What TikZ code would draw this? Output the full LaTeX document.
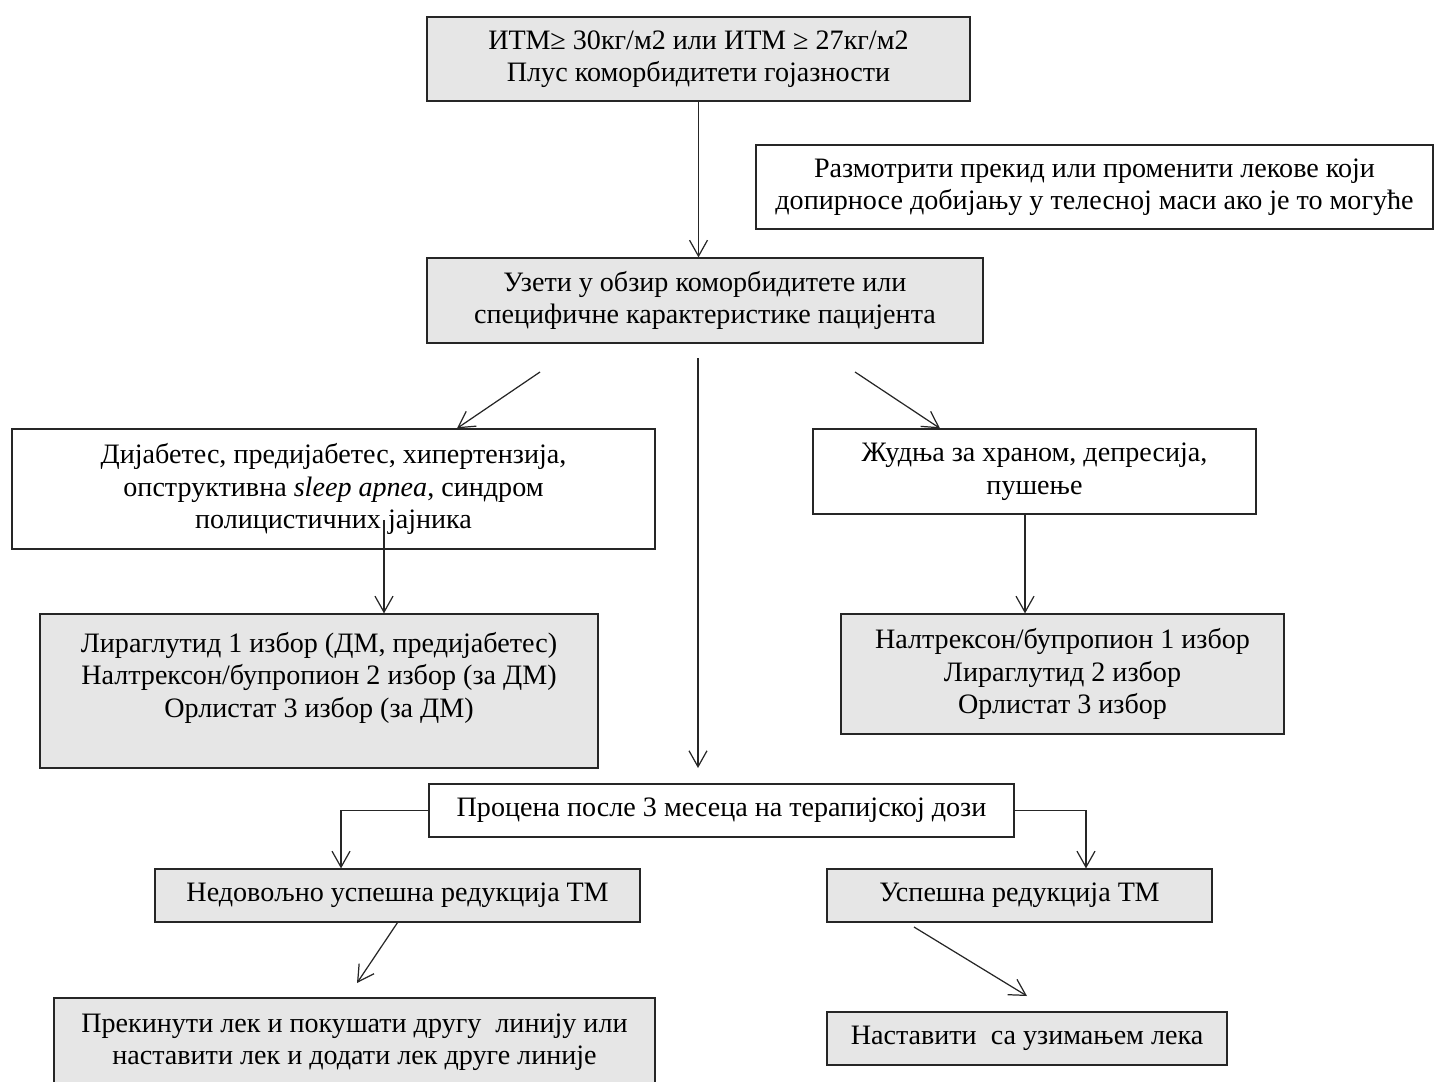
\documentclass[tikz,border=0pt]{standalone}
\usepackage{fontspec}
\setmainfont{Liberation Serif}
\usetikzlibrary{arrows.meta}
\definecolor{boxgray}{RGB}{230,230,230}

\begin{document}
\begin{tikzpicture}[x=0.02cm,y=-0.02cm,
        graybox/.style={draw=black!85, fill=boxgray, line width=0.7pt, align=center, inner sep=0pt,
                font=\fontsize{16}{18.5}\selectfont},
        whitebox/.style={graybox, fill=white},
        arr/.style={-{Straight Barb[length=3.2mm,width=3.6mm]}, line width=0.7pt, black!85}]
                \useasboundingbox (0,0) rectangle (1434,1082);

                \node[graybox, minimum width=10.86cm, minimum height=1.68cm] (itm) at (698.5,59)
                    {ИТМ≥ 30кг/м2 или ИТМ ≥ 27кг/м2\\Плус коморбидитети гојазности};
                \node[whitebox, minimum width=13.54cm, minimum height=1.68cm] (lekovi) at (1094.5,187)
                    {Размотрити прекид или променити лекове који\\допирносе добијању у телесној маси ако је то могуће};
                \node[graybox, minimum width=11.12cm, minimum height=1.70cm] (uzeti) at (705,300.5)
                    {Узети у обзир коморбидитете или\\специфичне карактеристике пацијента};
                \node[whitebox, minimum width=12.86cm, minimum height=2.40cm] (dijab) at (333.5,489)
                    {Дијабетес, предијабетес, хипертензија,\\опструктивна \textit{sleep apnea}, синдром\\полицистичних јајника};
                \node[whitebox, minimum width=8.86cm, minimum height=1.70cm] (zudnja) at (1034.5,471.5)
                    {Жудња за храном, депресија,\\пушење};
                \node[graybox, minimum width=11.16cm, minimum height=3.08cm] (lira) at (319,691)
                    {Лираглутид 1 избор (ДМ, предијабетес)\\Налтрексон/бупропион 2 избор (за ДМ)\\Орлистат 3 избор (за ДМ)\\~};
                \node[graybox, minimum width=8.86cm, minimum height=2.40cm] (nalt) at (1062.5,674)
                    {Налтрексон/бупропион 1 избор\\Лираглутид 2 избор\\Орлистат 3 избор};
                \node[whitebox, minimum width=11.70cm, minimum height=1.06cm] (procena) at (721.5,810.5)
                    {Процена после 3 месеца на терапијској дози};
                \node[graybox, minimum width=9.70cm, minimum height=1.06cm] (nedov) at (397.5,895.5)
                    {Недовољно успешна редукција ТМ};
                \node[graybox, minimum width=7.70cm, minimum height=1.06cm] (uspesna) at (1019.5,895.5)
                    {Успешна редукција ТМ};
                \node[graybox, minimum width=12.02cm, minimum height=1.76cm] (prekin) at (354.5,1042)
                    {Прекинути лек и покушати другу \ линију или\\наставити лек и додати лек друге линије};
                \node[graybox, minimum width=8.00cm, minimum height=1.06cm] (nastav) at (1027,1038.5)
                    {Наставити \ са узимањем лека};

                \coordinate (s1) at (540,372);
                \coordinate (s2) at (698,358);
                \coordinate (e2) at (698,768);
                \coordinate (s3) at (855,372);
                \coordinate (s4) at (384,520);
                \coordinate (s5) at ([xshift=-0.19cm]zudnja.south);
                \coordinate (e6) at (357,983);
                \coordinate (s7) at (914,927);
                \coordinate (e7) at (1027,996);

                \draw[arr] (itm.south) -- (itm.south |- uzeti.north);
                \draw[arr] (s1) -- ([xshift=2.47cm]dijab.north);
                \draw[arr] (s2) -- (e2);
                \draw[arr] (s3) -- ([xshift=-1.89cm]zudnja.north);
                \draw[arr] (s4) -- (s4 |- lira.north);
                \draw[arr] (s5) -- (s5 |- nalt.north);
                \draw[arr] (procena.west) -| ([xshift=-1.13cm]nedov.north);
                \draw[arr] (procena.east) -| ([xshift=1.33cm]uspesna.north);
                \draw[arr] (nedov.south) -- (e6);
                \draw[arr] (s7) -- (e7);
\end{tikzpicture}
\end{document}
